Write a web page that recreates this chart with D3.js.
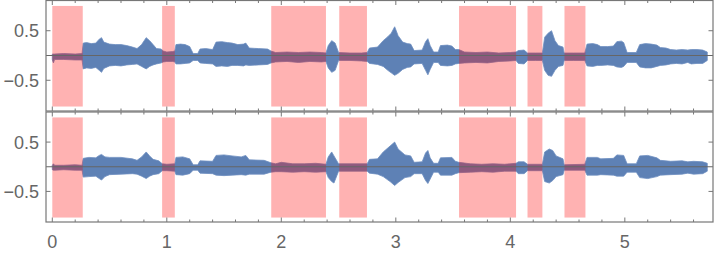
<!DOCTYPE html>
<html>
<head>
<meta charset="utf-8">
<script src="https://cdn.jsdelivr.net/npm/d3@7"></script>
<style>
  body { margin: 0; background: #fff; }
  svg text { font-family: "Liberation Sans", Arial, sans-serif; }
</style>
</head>
<body>
<div id="chart"></div>
<script>
// intervalos marcados (segundos)
var marcas = [[0, 0.266], [0.959, 1.07], [1.912, 2.39], [2.506, 2.748], [3.552, 4.05], [4.15, 4.28], [4.473, 4.656]];

// canal 1 - envelope (tempo, max, min)
var t1 = [0.00, 0.01, 0.02, 0.10, 0.20, 0.26, 0.27, 0.30, 0.34, 0.38, 0.41, 0.43, 0.45, 0.50, 0.55, 0.60, 0.65, 0.70, 0.74, 0.78,
  0.82, 0.85, 0.88, 0.91, 0.95, 0.97, 1.00, 1.05, 1.07, 1.08, 1.12, 1.16, 1.20, 1.23, 1.27, 1.29, 1.34, 1.40, 1.43, 1.48,
  1.53, 1.57, 1.62, 1.67, 1.69, 1.72, 1.80, 1.88, 1.91, 1.95, 2.05, 2.15, 2.25, 2.35, 2.39, 2.41, 2.44, 2.47, 2.50, 2.60,
  2.70, 2.75, 2.77, 2.84, 2.89, 2.93, 2.96, 2.99, 3.02, 3.06, 3.10, 3.13, 3.16, 3.23, 3.26, 3.28, 3.30, 3.33, 3.37, 3.39,
  3.45, 3.49, 3.52, 3.55, 3.60, 3.70, 3.80, 3.90, 4.00, 4.05, 4.07, 4.12, 4.15, 4.22, 4.28, 4.30, 4.33, 4.36, 4.39, 4.42,
  4.46, 4.47, 4.55, 4.65, 4.67, 4.72, 4.76, 4.79, 4.85, 4.90, 4.93, 4.97, 4.99, 5.02, 5.10, 5.13, 5.18, 5.23, 5.28, 5.31,
  5.36, 5.40, 5.45, 5.50, 5.55, 5.58, 5.63, 5.68, 5.72];
var max1 = [0.03, 0.03, 0.03, 0.04, 0.03, 0.04, 0.25, 0.26, 0.24, 0.25, 0.33, 0.36, 0.27, 0.23, 0.22, 0.22, 0.20, 0.17, 0.14, 0.22,
  0.36, 0.30, 0.22, 0.14, 0.13, 0.09, 0.07, 0.08, 0.09, 0.22, 0.23, 0.22, 0.18, 0.04, 0.04, 0.13, 0.14, 0.12, 0.27, 0.28,
  0.26, 0.25, 0.22, 0.23, 0.25, 0.15, 0.14, 0.13, 0.09, 0.06, 0.07, 0.06, 0.07, 0.06, 0.05, 0.20, 0.30, 0.25, 0.06, 0.05,
  0.05, 0.06, 0.15, 0.17, 0.30, 0.38, 0.45, 0.58, 0.40, 0.27, 0.24, 0.23, 0.10, 0.11, 0.28, 0.34, 0.20, 0.07, 0.07, 0.20,
  0.21, 0.19, 0.12, 0.12, 0.07, 0.06, 0.07, 0.05, 0.06, 0.07, 0.10, 0.11, 0.05, 0.05, 0.05, 0.37, 0.45, 0.50, 0.30, 0.20,
  0.17, 0.05, 0.05, 0.05, 0.23, 0.24, 0.22, 0.18, 0.18, 0.19, 0.28, 0.29, 0.26, 0.06, 0.06, 0.22, 0.24, 0.23, 0.21, 0.16,
  0.15, 0.12, 0.11, 0.12, 0.11, 0.12, 0.12, 0.11, 0.07];
var min1 = [-0.09, -0.15, -0.08, -0.08, -0.09, -0.09, -0.27, -0.25, -0.26, -0.24, -0.30, -0.34, -0.26, -0.21, -0.20, -0.21, -0.19, -0.18, -0.17, -0.22,
  -0.27, -0.22, -0.19, -0.17, -0.15, -0.13, -0.12, -0.12, -0.13, -0.17, -0.17, -0.16, -0.15, -0.10, -0.10, -0.15, -0.16, -0.17, -0.22, -0.21,
  -0.22, -0.20, -0.20, -0.21, -0.19, -0.20, -0.19, -0.18, -0.15, -0.13, -0.12, -0.14, -0.12, -0.13, -0.12, -0.25, -0.34, -0.30, -0.10, -0.10,
  -0.11, -0.12, -0.16, -0.18, -0.22, -0.30, -0.35, -0.40, -0.36, -0.28, -0.24, -0.23, -0.17, -0.16, -0.30, -0.39, -0.28, -0.14, -0.14, -0.20,
  -0.21, -0.20, -0.17, -0.16, -0.15, -0.14, -0.15, -0.12, -0.11, -0.10, -0.16, -0.17, -0.10, -0.10, -0.10, -0.30, -0.40, -0.42, -0.30, -0.22,
  -0.20, -0.10, -0.10, -0.10, -0.21, -0.22, -0.20, -0.20, -0.19, -0.20, -0.23, -0.24, -0.22, -0.14, -0.14, -0.23, -0.25, -0.25, -0.22, -0.20,
  -0.19, -0.17, -0.16, -0.17, -0.14, -0.17, -0.16, -0.16, -0.10];

// canal 2
var t2 = [0.00, 0.01, 0.02, 0.10, 0.20, 0.26, 0.27, 0.32, 0.38, 0.41, 0.43, 0.46, 0.50, 0.60, 0.70, 0.74, 0.78, 0.82, 0.85, 0.88,
  0.93, 0.96, 1.00, 1.07, 1.08, 1.14, 1.20, 1.23, 1.27, 1.29, 1.40, 1.43, 1.50, 1.57, 1.65, 1.69, 1.72, 1.85, 1.91, 1.95,
  2.00, 2.10, 2.20, 2.30, 2.39, 2.41, 2.44, 2.46, 2.50, 2.60, 2.75, 2.77, 2.84, 2.89, 2.95, 2.99, 3.02, 3.08, 3.13, 3.16,
  3.23, 3.26, 3.28, 3.30, 3.33, 3.37, 3.39, 3.49, 3.52, 3.55, 3.65, 3.75, 3.85, 3.95, 4.05, 4.07, 4.12, 4.15, 4.28, 4.30,
  4.34, 4.37, 4.40, 4.46, 4.47, 4.65, 4.67, 4.76, 4.79, 4.90, 4.93, 4.99, 5.02, 5.10, 5.13, 5.20, 5.28, 5.31, 5.40, 5.50,
  5.55, 5.60, 5.68, 5.72];
var max2 = [0.03, 0.06, 0.03, 0.03, 0.04, 0.03, 0.17, 0.19, 0.18, 0.23, 0.25, 0.20, 0.19, 0.19, 0.16, 0.13, 0.20, 0.30, 0.22, 0.15,
  0.12, 0.06, 0.05, 0.06, 0.19, 0.20, 0.16, 0.04, 0.04, 0.12, 0.11, 0.23, 0.24, 0.22, 0.20, 0.23, 0.14, 0.13, 0.08, 0.06,
  0.09, 0.06, 0.06, 0.07, 0.05, 0.20, 0.30, 0.22, 0.06, 0.06, 0.06, 0.15, 0.16, 0.30, 0.42, 0.50, 0.36, 0.24, 0.22, 0.09,
  0.10, 0.28, 0.33, 0.18, 0.07, 0.07, 0.18, 0.19, 0.11, 0.09, 0.06, 0.05, 0.06, 0.05, 0.07, 0.10, 0.10, 0.05, 0.05, 0.30,
  0.36, 0.33, 0.22, 0.16, 0.04, 0.05, 0.19, 0.19, 0.16, 0.17, 0.24, 0.23, 0.06, 0.06, 0.22, 0.23, 0.18, 0.13, 0.11, 0.12,
  0.10, 0.11, 0.10, 0.07];
var min2 = [-0.06, -0.07, -0.07, -0.06, -0.07, -0.07, -0.21, -0.20, -0.19, -0.24, -0.27, -0.20, -0.16, -0.15, -0.14, -0.15, -0.19, -0.24, -0.19, -0.16,
  -0.14, -0.08, -0.08, -0.09, -0.16, -0.17, -0.14, -0.07, -0.07, -0.13, -0.14, -0.17, -0.18, -0.17, -0.16, -0.17, -0.15, -0.15, -0.11, -0.10,
  -0.10, -0.11, -0.10, -0.11, -0.10, -0.22, -0.30, -0.33, -0.09, -0.09, -0.09, -0.13, -0.15, -0.20, -0.30, -0.38, -0.32, -0.22, -0.20, -0.14,
  -0.14, -0.28, -0.34, -0.25, -0.11, -0.11, -0.17, -0.17, -0.14, -0.12, -0.11, -0.10, -0.11, -0.09, -0.09, -0.14, -0.14, -0.08, -0.08, -0.30,
  -0.33, -0.28, -0.20, -0.16, -0.07, -0.07, -0.17, -0.17, -0.16, -0.17, -0.19, -0.19, -0.11, -0.11, -0.22, -0.24, -0.20, -0.17, -0.16, -0.15,
  -0.13, -0.15, -0.14, -0.09];

var xTicks = [0, 1, 2, 3, 4, 5];
var yTicks = [0.5, -0.5];

var width = 722, height = 255;
var left = 46, right = 713;

var svg = d3.select('#chart').append('svg')
  .attr('width', width)
  .attr('height', height);

var x = d3.scaleLinear().domain([-0.055, 5.77]).range([left, right]);

var canais = [
  { t: t1, max: max1, min: min1, top: 0.5, bottom: 111 },
  { t: t2, max: max2, min: min2, top: 112, bottom: 222 }
];

// ticks menores de 0.2 em 0.2
var minorTicks = d3.range(0, 29).map(function (i) { return i / 5; });

canais.forEach(function (c, k) {
  var y = d3.scaleLinear().domain([-1.12, 1.11]).range([c.bottom, c.top]);
  var g = svg.append('g');

  var pts = c.t.map(function (t, i) { return { t: t, hi: c.max[i], lo: c.min[i] }; });

  var area = d3.area()
    .x(function (d) { return x(d.t); })
    .y0(function (d) { return y(d.lo); })
    .y1(function (d) { return y(d.hi); });

  g.append('path')
    .datum(pts)
    .attr('d', area)
    .attr('fill', '#5e81b5')
    .attr('stroke', '#6d8ec0')
    .attr('stroke-width', 0.8);

  // marcas vermelhas por cima
  g.selectAll('rect.marca')
    .data(marcas)
    .enter()
    .append('rect')
    .attr('class', 'marca')
    .attr('x', function (d) { return x(d[0]); })
    .attr('width', function (d) { return x(d[1]) - x(d[0]); })
    .attr('y', y(1.0))
    .attr('height', y(-1.03) - y(1.0))
    .attr('fill', 'red')
    .attr('fill-opacity', 0.3);

  // eixo zero
  g.append('line')
    .attr('x1', left).attr('x2', right)
    .attr('y1', y(0)).attr('y2', y(0))
    .attr('stroke', '#666')
    .attr('stroke-width', 1.2);

  // moldura
  g.append('rect')
    .attr('x', left).attr('y', c.top)
    .attr('width', right - left).attr('height', c.bottom - c.top)
    .attr('fill', 'none')
    .attr('stroke', '#777')
    .attr('stroke-width', 1.2);

  // ticks x
  minorTicks.forEach(function (v) {
    var major = xTicks.indexOf(Math.round(v * 10) / 10) >= 0;
    var len = major ? 4.5 : 2.5;
    g.append('line').attr('x1', x(v)).attr('x2', x(v))
      .attr('y1', c.bottom).attr('y2', c.bottom - len)
      .attr('stroke', '#777');
    g.append('line').attr('x1', x(v)).attr('x2', x(v))
      .attr('y1', c.top).attr('y2', c.top + len)
      .attr('stroke', '#777');
  });

  // ticks y
  yTicks.forEach(function (v) {
    g.append('line').attr('x1', left).attr('x2', left + 4.5)
      .attr('y1', y(v)).attr('y2', y(v)).attr('stroke', '#777');
    g.append('line').attr('x1', right).attr('x2', right - 4.5)
      .attr('y1', y(v)).attr('y2', y(v)).attr('stroke', '#777');
    g.append('text')
      .attr('x', 39)
      .attr('y', y(v))
      .attr('dy', '0.36em')
      .attr('text-anchor', 'end')
      .attr('font-size', 18)
      .attr('fill', '#666')
      .text(v < 0 ? '\u2212' + Math.abs(v) : String(v));
  });
});

svg.selectAll('text.xlab')
  .data(xTicks)
  .enter()
  .append('text')
  .attr('class', 'xlab')
  .attr('x', function (d) { return x(d); })
  .attr('y', 242)
  .attr('dy', '0.36em')
  .attr('text-anchor', 'middle')
  .attr('font-size', 18)
  .attr('fill', '#666')
  .text(function (d) { return d; });
</script>
</body>
</html>
